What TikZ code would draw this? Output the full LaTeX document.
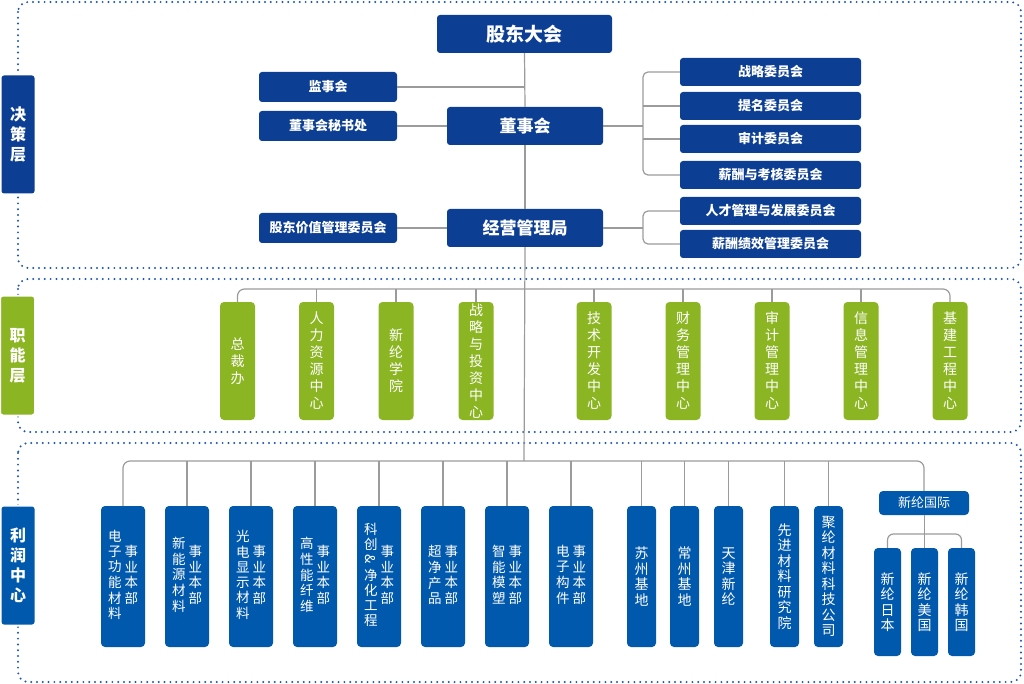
\documentclass[tikz,border=0pt]{standalone}
\usepackage{fontspec}
\setmainfont{Noto Sans CJK SC}
\definecolor{topblue}{RGB}{12,62,148}
\definecolor{unitblue}{RGB}{0,89,172}
\definecolor{funcgreen}{RGB}{140,181,35}
\definecolor{linegray}{RGB}{155,155,155}
\definecolor{frameblue}{RGB}{30,85,175}
\tikzset{topbox/.style={rounded corners=3, fill=topblue, text=white, inner sep=0, font=\bfseries\fontsize{13}{15}\selectfont}}
\tikzset{funcbox/.style={rounded corners=4, fill=funcgreen, text=white, minimum width=35, minimum height=118, inner sep=0, align=center, font=\fontsize{14}{17}\selectfont}}
\tikzset{unitbox/.style={rounded corners=4, fill=unitblue, text=white, minimum height=141, inner sep=0, align=center, font=\fontsize{13.5}{14.5}\selectfont}}
\tikzset{conn/.style={draw=linegray, line width=1.2}}
\tikzset{layerframe/.style={draw=frameblue, line width=2.2, dash pattern=on 0pt off 5.8pt, line cap=round, rounded corners=10}}
\tikzset{sidelabel/.style={rounded corners=3, text=white, draw=white, line width=2, minimum width=35, minimum height=120, inner sep=0, align=center, font=\bfseries\fontsize{16}{20}\selectfont}}
\newcommand{\unitname}[1]{\begin{tabular}{@{}c@{\hspace{3pt}}c@{}}\begin{tabular}{@{}c@{}}#1\end{tabular}&\begin{tabular}{@{}c@{}}事\\业\\本\\部\end{tabular}\end{tabular}}

\begin{document}
\begin{tikzpicture}[x=1pt, y=-1pt]
    \useasboundingbox (0,0) rectangle (1024,684);
    % layer frames
    \draw[layerframe] (18,2) rectangle (1021,268);
    \draw[layerframe] (18,279) rectangle (1021,432);
    \draw[layerframe] (18,443) rectangle (1021,682);
    \node[sidelabel, fill=topblue] (jcc) at (18,134.5) {决\\策\\层};
    \node[sidelabel, fill=funcgreen] (znc) at (17.5,355.5) {职\\能\\层};
    \node[sidelabel, fill=unitblue] (lrzx) at (18,565.5) {利\\润\\中\\心};

    % decision layer
    \node[topbox, minimum width=175, minimum height=38, font=\bfseries\fontsize{19}{22}\selectfont] (gddh) at (524.5,34) {股东大会};
    \node[topbox, minimum width=156, minimum height=38, font=\bfseries\fontsize{17}{20}\selectfont] (dsh) at (525,126) {董事会};
    \node[topbox, minimum width=156, minimum height=38, font=\bfseries\fontsize{17}{20}\selectfont] (jygl) at (525,228) {经营管理局};
    \node[topbox, minimum width=138, minimum height=30] (jsh) at (328,87) {监事会};
    \node[topbox, minimum width=138, minimum height=30] (msc) at (328,126) {董事会秘书处};
    \node[topbox, minimum width=138, minimum height=30] (gdjz) at (328,228) {股东价值管理委员会};
    \node[topbox, minimum width=181, minimum height=28] (zlwy) at (770.5,72) {战略委员会};
    \node[topbox, minimum width=181, minimum height=28] (tmwy) at (770.5,106) {提名委员会};
    \node[topbox, minimum width=181, minimum height=28] (sjwy) at (770.5,139) {审计委员会};
    \node[topbox, minimum width=181, minimum height=28] (xckh) at (770.5,175) {薪酬与考核委员会};
    \node[topbox, minimum width=181, minimum height=28] (rcfz) at (770.5,211) {人才管理与发展委员会};
    \node[topbox, minimum width=181, minimum height=28] (xcjx) at (770.5,244) {薪酬绩效管理委员会};

    \coordinate (br1) at (643,126);
    \coordinate (br2) at (643,228);
    \coordinate (fbus) at (524,289);
    \coordinate (pbus) at (524,461);
    \draw[conn] (gddh.south) -- (dsh.north);
    \draw[conn] (dsh.south) -- (jygl.north);
    \draw[conn] (jygl.south) -- (pbus);
    \draw[conn] (jsh.east) -- (jsh.east -| gddh.south);
    \draw[conn] (msc) -- (dsh);
    \draw[conn] (gdjz) -- (jygl);
    \draw[conn] (dsh.east) -- (br1);
    \draw[conn, rounded corners=5] (zlwy.west) -| (br1) |- (xckh.west);
    \draw[conn] (tmwy.west) -- (tmwy.west -| br1);
    \draw[conn] (sjwy.west) -- (sjwy.west -| br1);
    \draw[conn] (jygl.east) -- (br2);
    \draw[conn, rounded corners=5] (rcfz.west) -| (br2) |- (xcjx.west);

    % functional layer
    \node[funcbox] (zcb) at (237.5,361) {总\\裁\\办};
    \node[funcbox] (rlzy) at (316.5,361) {人\\力\\资\\源\\中\\心};
    \node[funcbox] (xlxy) at (396,361) {新\\纶\\学\\院};
    \node[funcbox] (zltz) at (476,361) {战\\略\\与\\投\\资\\中\\心};
    \node[funcbox] (jskf) at (594,361) {技\\术\\开\\发\\中\\心};
    \node[funcbox] (cwgl) at (683,361) {财\\务\\管\\理\\中\\心};
    \node[funcbox] (sjgl) at (772,361) {审\\计\\管\\理\\中\\心};
    \node[funcbox] (xxgl) at (861,361) {信\\息\\管\\理\\中\\心};
    \node[funcbox] (jjgc) at (950,361) {基\\建\\工\\程\\中\\心};
    \draw[conn, rounded corners=7] (zcb.north) |- (fbus) -| (jjgc.north);
    \foreach \n in {rlzy,xlxy,zltz,jskf,cwgl,sjgl,xxgl}
        \draw[conn] (\n.north) -- (\n.north |- fbus);

    % profit centres
    \node[unitbox, minimum width=44] (dzgn) at (123,576.5) {\unitname{电\\子\\功\\能\\材\\料}};
    \node[unitbox, minimum width=44] (xny) at (187,576.5) {\unitname{新\\能\\源\\材\\料}};
    \node[unitbox, minimum width=44] (gdxs) at (251,576.5) {\unitname{光\\电\\显\\示\\材\\料}};
    \node[unitbox, minimum width=44] (gxn) at (315,576.5) {\unitname{高\\性\\能\\纤\\维}};
    \node[unitbox, minimum width=44] (kcjh) at (379,576.5) {\unitname{科\\创\\\rotatebox[origin=c]{-90}{\&}\\净\\化\\工\\程}};
    \node[unitbox, minimum width=44] (cjcp) at (443,576.5) {\unitname{超\\净\\产\\品}};
    \node[unitbox, minimum width=44] (znms) at (507,576.5) {\unitname{智\\能\\模\\塑}};
    \node[unitbox, minimum width=44] (dzgj) at (571,576.5) {\unitname{电\\子\\构\\件}};
    \node[unitbox, minimum width=29, font=\fontsize{14}{15.5}\selectfont] (szjd) at (641.5,576.5) {苏\\州\\基\\地};
    \node[unitbox, minimum width=29, font=\fontsize{14}{15.5}\selectfont] (czjd) at (684.5,576.5) {常\\州\\基\\地};
    \node[unitbox, minimum width=29, font=\fontsize{14}{15.5}\selectfont] (tjxl) at (728.5,576.5) {天\\津\\新\\纶};
    \node[unitbox, minimum width=29, font=\fontsize{14}{15.5}\selectfont] (xjyj) at (784.5,576.5) {先\\进\\材\\料\\研\\究\\院};
    \node[unitbox, minimum width=29, font=\fontsize{14}{15.5}\selectfont] (jlkj) at (828.5,576.5) {聚\\纶\\材\\料\\科\\技\\公\\司};
    \node[unitbox, minimum width=90, minimum height=24, font=\fontsize{13}{15}\selectfont] (xlgj) at (924,503) {新纶国际};
    \node[unitbox, minimum width=27, minimum height=108, font=\fontsize{14}{15.5}\selectfont] (xlrb) at (887.5,602) {新\\纶\\日\\本};
    \node[unitbox, minimum width=27, minimum height=108, font=\fontsize{14}{15.5}\selectfont] (xlmg) at (924.5,602) {新\\纶\\美\\国};
    \node[unitbox, minimum width=27, minimum height=108, font=\fontsize{14}{15.5}\selectfont] (xlhg) at (961.5,602) {新\\纶\\韩\\国};
    \draw[conn, rounded corners=7] (dzgn.north) |- (pbus) -| (xlgj.north);
    \foreach \n in {xny,gdxs,gxn,kcjh,cjcp,znms,dzgj,szjd,czjd,tjxl,xjyj,jlkj}
        \draw[conn] (\n.north) -- (\n.north |- pbus);
    \coordinate (ibus) at (924.5,534);
    \draw[conn] (xlgj.south -| xlmg.north) -- (xlmg.north);
    \draw[conn, rounded corners=6] (xlrb.north) |- (ibus) -| (xlhg.north);
\end{tikzpicture}
\end{document}
